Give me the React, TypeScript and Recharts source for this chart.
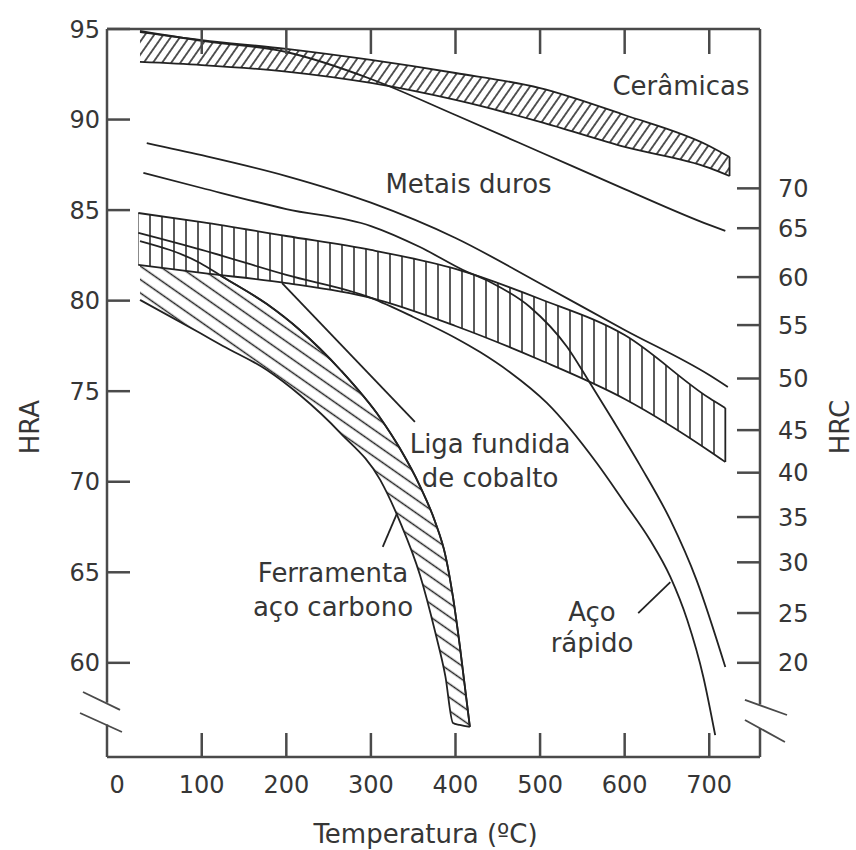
import React from 'react';
import { ComposedChart, Area, Line, XAxis, YAxis, ReferenceLine, ReferenceDot } from 'recharts';

// hot hardness of tool materials, HRA vs temperature (ºC)

// Cerâmicas band
const cerTemp = [27, 100, 200, 300, 400, 500, 600, 700, 724];
const cerHigh = [94.83, 94.39, 93.9, 93.29, 92.57, 91.74, 90.25, 88.54, 87.93];
const cerLow = [93.18, 93.01, 92.65, 92.02, 91.08, 89.87, 88.49, 87.33, 86.88];

// Metais duros, upper and lower line
const hmTopTemp = [27, 100, 200, 300, 400, 500, 600, 700, 719];
const hmTop = [94.89, 94.35, 93.73, 92.24, 90.25, 88.21, 86.16, 84.18, 83.85];
const hmLowTemp = [35, 100, 200, 300, 400, 500, 600, 700, 722];
const hmLow = [88.7, 88.03, 86.88, 85.41, 83.46, 80.95, 78.38, 75.89, 75.23];

// Liga fundida de cobalto band
const coTemp = [25, 100, 200, 300, 400, 500, 600, 700, 719];
const coHigh = [84.84, 84.34, 83.57, 82.8, 81.75, 80.09, 78.1, 74.62, 74.07];
const coLow = [81.97, 81.53, 80.97, 80.15, 78.6, 76.72, 74.57, 71.7, 71.09];

// Aço rápido, upper and lower line
const hssTopTemp = [31, 100, 200, 300, 358, 409, 441, 488, 532, 559, 586, 618, 654, 685, 719];
const hssTop = [87.05, 86.22, 85.06, 84.12, 82.96, 81.69, 81.03, 79.65, 77.44, 75.45, 73.41, 70.92, 67.89, 64.57, 59.77];
const hssLowTemp = [25, 100, 200, 300, 350, 400, 429, 464, 508, 567, 600, 630, 654, 674, 693, 707];
const hssLow = [83.74, 82.8, 81.42, 80.15, 79.1, 77.94, 77.16, 76.06, 74.35, 71.03, 68.83, 66.78, 64.74, 62.36, 59.22, 56.01];

// Ferramenta aço carbono band
const feTemp = [27, 98, 125, 177, 216, 264, 311, 334, 358, 376, 388, 397, 405, 417];
const feHigh = [83.29, 82.08, 81.31, 79.81, 78.38, 76.17, 73.52, 71.86, 69.76, 67.78, 65.95, 63.64, 60.98, 56.46];
const feLow = [80.04, 78.21, 77.5, 76.17, 74.79, 72.69, 70.1, 67.83, 64.85, 61.7, 59.27, 56.68, 56.57, 56.46];

// axes
const tempDomain = [-12, 760];
const hraDomain = [54.8, 95];
const tempTicks = [0, 100, 200, 300, 400, 500, 600, 700];
const hraTicks = [60, 65, 70, 75, 80, 85, 90, 95];
const hrcLabels = [70, 65, 60, 55, 50, 45, 40, 35, 30, 25, 20];
const hrcAsHra = [86.2, 84.0, 81.3, 78.65, 75.7, 72.85, 70.5, 68.05, 65.55, 62.75, 60.0];

const FONT = '"DejaVu Sans", sans-serif';
const INK = '#222';
const AXIS = '#4a4a4a';
const TEXT = '#363636';

const band = (t: number[], lo: number[], hi: number[]) =>
  t.map((x, i) => ({ t: x, hi: hi[i], range: [lo[i], hi[i]] }));
const curve = (t: number[], v: number[]) => t.map((x, i) => ({ t: x, v: v[i] }));

const cerRows = band(cerTemp, cerLow, cerHigh);
const coRows = band(coTemp, coLow, coHigh);
const feRows = band(feTemp, feLow, feHigh);

const lineProps = {
  xAxisId: 'b',
  yAxisId: 'l',
  type: 'monotone' as const,
  stroke: INK,
  strokeWidth: 1.8,
  dot: false,
  isAnimationActive: false,
};

const textShape = (lines: string[], gap = 34) => (p: any) => (
  <text x={p.cx} y={p.cy} textAnchor="middle" fontFamily={FONT} fontSize={26} fill={TEXT}>
    {lines.map((s, i) => (
      <tspan key={i} x={p.cx} dy={i === 0 ? 0 : gap}>
        {s}
      </tspan>
    ))}
  </text>
);

const BottomTick = (p: any) => (
  <g>
    {p.payload.value !== 0 && (
      <line x1={p.x} y1={p.y} x2={p.x} y2={p.y - 24} stroke={AXIS} strokeWidth={2.5} />
    )}
    <text x={p.x} y={p.y + 36} textAnchor="middle" fontFamily={FONT} fontSize={24} fill={TEXT}>
      {p.payload.value}
    </text>
  </g>
);

const TopTick = (p: any) => (
  <line x1={p.x} y1={p.y} x2={p.x} y2={p.y + 25} stroke={AXIS} strokeWidth={2.5} />
);

const LeftTick = (p: any) => (
  <g>
    <line x1={p.x} y1={p.y} x2={p.x + 23} y2={p.y} stroke={AXIS} strokeWidth={2.5} />
    <text x={p.x - 7} y={p.y} dy="0.36em" textAnchor="end" fontFamily={FONT} fontSize={24} fill={TEXT}>
      {p.payload.value}
    </text>
  </g>
);

const RightTick = (p: any) => {
  const i = hrcAsHra.indexOf(p.payload.value);
  return (
    <g>
      <line x1={p.x - 23} y1={p.y} x2={p.x} y2={p.y} stroke={AXIS} strokeWidth={2.5} />
      <text x={p.x + 18} y={p.y} dy="0.36em" textAnchor="start" fontFamily={FONT} fontSize={24} fill={TEXT}>
        {hrcLabels[i]}
      </text>
    </g>
  );
};

const sideTitle = (title: string, dx: number) => (p: any) => {
  const vb = p.viewBox || { x: 0, y: 0, width: 0, height: 0 };
  const x = vb.x + dx;
  const y = vb.y + vb.height / 2 + 34;
  return (
    <text x={x} y={y} transform={`rotate(-90 ${x} ${y})`} textAnchor="middle" dy="0.36em"
      fontFamily={FONT} fontSize={26} fill={TEXT}>
      {title}
    </text>
  );
};

const bottomTitle = (p: any) => {
  const vb = p.viewBox || { x: 0, y: 0, width: 0, height: 0 };
  return (
    <text x={vb.x + vb.width / 2 - 8} y={vb.y + 86} textAnchor="middle" fontFamily={FONT} fontSize={26} fill={TEXT}>
      Temperatura (ºC)
    </text>
  );
};

const seg = (x1: number, y1: number, x2: number, y2: number, w = 1.8, color = INK) => (
  <ReferenceLine
    xAxisId="b"
    yAxisId="l"
    segment={[{ x: x1, y: y1 }, { x: x2, y: y2 }]}
    stroke={color}
    strokeWidth={w}
    ifOverflow="visible"
  />
);

export default function App() {
  return (
    <div style={{ position: 'fixed', left: 0, top: 0, width: 856, height: 850, background: '#fff', overflow: 'hidden' }}>
      <ComposedChart width={856} height={850} margin={{ top: 0, right: 0, bottom: 0, left: 0 }}>
        <defs>
          <pattern id="hatchCer" patternUnits="userSpaceOnUse" width="7.5" height="7.5" patternTransform="rotate(35)">
            <line x1="3.75" y1="0" x2="3.75" y2="7.5" stroke={INK} strokeWidth="1.5" />
          </pattern>
          <pattern id="hatchCo" patternUnits="userSpaceOnUse" width="12" height="12">
            <rect width="12" height="12" fill="#fff" />
            <line x1="6" y1="0" x2="6" y2="12" stroke={INK} strokeWidth="1.5" />
          </pattern>
          <pattern id="hatchFe" patternUnits="userSpaceOnUse" width="11" height="11" patternTransform="rotate(35)">
            <line x1="0" y1="5.5" x2="11" y2="5.5" stroke={INK} strokeWidth="1.5" />
          </pattern>
        </defs>

        <XAxis xAxisId="b" dataKey="t" type="number" domain={tempDomain} allowDataOverflow ticks={tempTicks}
          interval={0} height={93} tickSize={0} tickMargin={0} tickLine={false}
          axisLine={{ stroke: AXIS, strokeWidth: 2.5 }} tick={BottomTick} label={bottomTitle} />
        <XAxis xAxisId="t" orientation="top" dataKey="t" type="number" domain={tempDomain} allowDataOverflow
          ticks={tempTicks.slice(1)} interval={0} height={29} tickSize={0} tickMargin={0} tickLine={false}
          axisLine={{ stroke: AXIS, strokeWidth: 2.5 }} tick={TopTick} />
        <YAxis yAxisId="l" type="number" domain={hraDomain} allowDataOverflow ticks={hraTicks} interval={0}
          width={107} tickSize={0} tickMargin={0} tickLine={false} axisLine={false} tick={LeftTick}
          label={sideTitle('HRA', 30)} />
        <YAxis yAxisId="r" orientation="right" type="number" domain={hraDomain} allowDataOverflow ticks={hrcAsHra}
          interval={0} width={96} tickSize={0} tickMargin={0} tickLine={false} axisLine={false} tick={RightTick}
          label={sideTitle('HRC', 80)} />

        <Area xAxisId="b" yAxisId="l" data={feRows} dataKey="range" type="monotone" stroke={INK} strokeWidth={1.8}
          fill="url(#hatchFe)" fillOpacity={1} isAnimationActive={false} />
        <Area xAxisId="b" yAxisId="l" data={coRows} dataKey="range" type="monotone" stroke={INK} strokeWidth={1.8}
          fill="url(#hatchCo)" fillOpacity={1} isAnimationActive={false} />
        <Area xAxisId="b" yAxisId="l" data={cerRows} dataKey="range" type="monotone" stroke={INK} strokeWidth={1.8}
          fill="url(#hatchCer)" fillOpacity={1} isAnimationActive={false} />

        <Line {...lineProps} data={feRows} dataKey="hi" />
        <Line {...lineProps} data={curve(hmTopTemp, hmTop)} dataKey="v" />
        <Line {...lineProps} data={curve(hmLowTemp, hmLow)} dataKey="v" />
        <Line {...lineProps} data={curve(hssTopTemp, hssTop)} dataKey="v" />
        <Line {...lineProps} data={curve(hssLowTemp, hssLow)} dataKey="v" />

        {/* band end caps */}
        {seg(724, cerHigh[8], 724, cerLow[8])}
        {seg(719, coHigh[8], 719, coLow[8])}

        {/* leader lines */}
        {seg(195, 80.97, 352, 73.3)}
        {seg(314, 66.4, 331, 68.27)}
        {seg(616, 62.75, 654, 64.46)}

        {/* left / right frame with axis breaks */}
        {seg(-12, 95, -12, 57.8, 2.5, AXIS)}
        {seg(-12, 56.6, -12, 54.8, 2.5, AXIS)}
        {seg(760, 95, 760, 57.7, 2.5, AXIS)}
        {seg(760, 56.4, 760, 54.8, 2.5, AXIS)}
        {seg(-40.4, 58.39, 3.4, 57.4, 1.8, AXIS)}
        {seg(-43.9, 57.23, 5.7, 56.18, 1.8, AXIS)}
        {seg(742.2, 57.95, 791.9, 57.12, 1.8, AXIS)}
        {seg(742.2, 56.84, 789.5, 55.63, 1.8, AXIS)}

        <ReferenceDot xAxisId="b" yAxisId="l" x={666.6} y={91.36} r={0} shape={textShape(['Cerâmicas'])} />
        <ReferenceDot xAxisId="b" yAxisId="l" x={415.4} y={85.94} r={0} shape={textShape(['Metais duros'])} />
        <ReferenceDot xAxisId="b" yAxisId="l" x={440.8} y={71.59} r={0}
          shape={textShape(['Liga fundida', 'de cobalto'])} />
        <ReferenceDot xAxisId="b" yAxisId="l" x={255.2} y={64.46} r={0}
          shape={textShape(['Ferramenta', 'aço carbono'])} />
        <ReferenceDot xAxisId="b" yAxisId="l" x={561.4} y={62.31} r={0} shape={textShape(['Aço', 'rápido'], 31)} />
      </ComposedChart>
    </div>
  );
}
